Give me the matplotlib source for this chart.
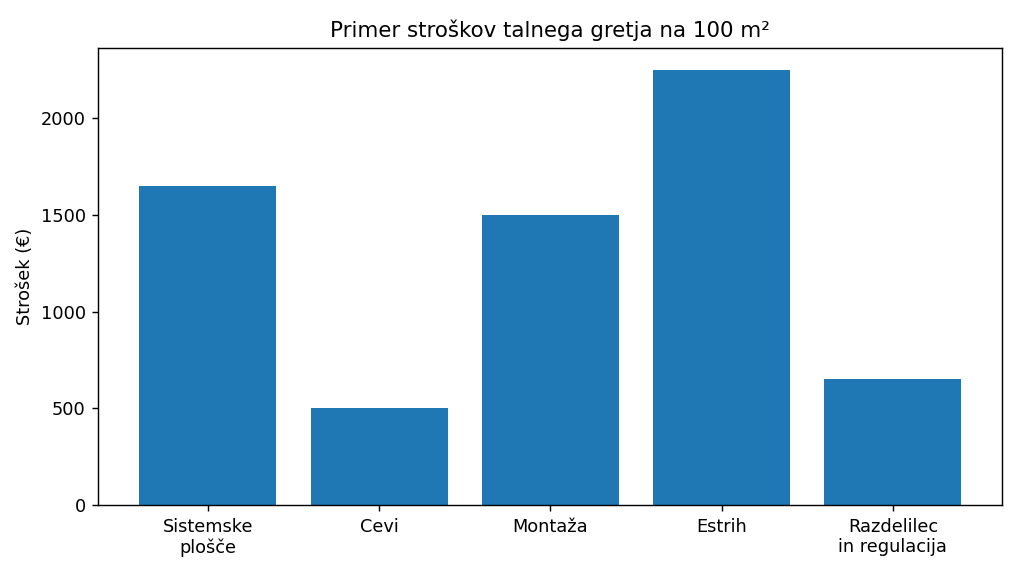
import matplotlib
matplotlib.use("Agg")
import matplotlib.pyplot as plt

categories = ["Sistemske\nplošče", "Cevi", "Montaža", "Estrih", "Razdelilec\nin regulacija"]
values = [1650, 500, 1500, 2250, 650]

fig, ax = plt.subplots(figsize=(8, 4.5), dpi=128)
ax.bar(categories, values, color="#1f77b4")
ax.set_title("Primer stroškov talnega gretja na 100 m²")
ax.set_ylabel("Strošek (€)")
fig.subplots_adjust(left=0.096, right=0.979, top=0.917, bottom=0.123)
fig.savefig("out.png", dpi=128)
